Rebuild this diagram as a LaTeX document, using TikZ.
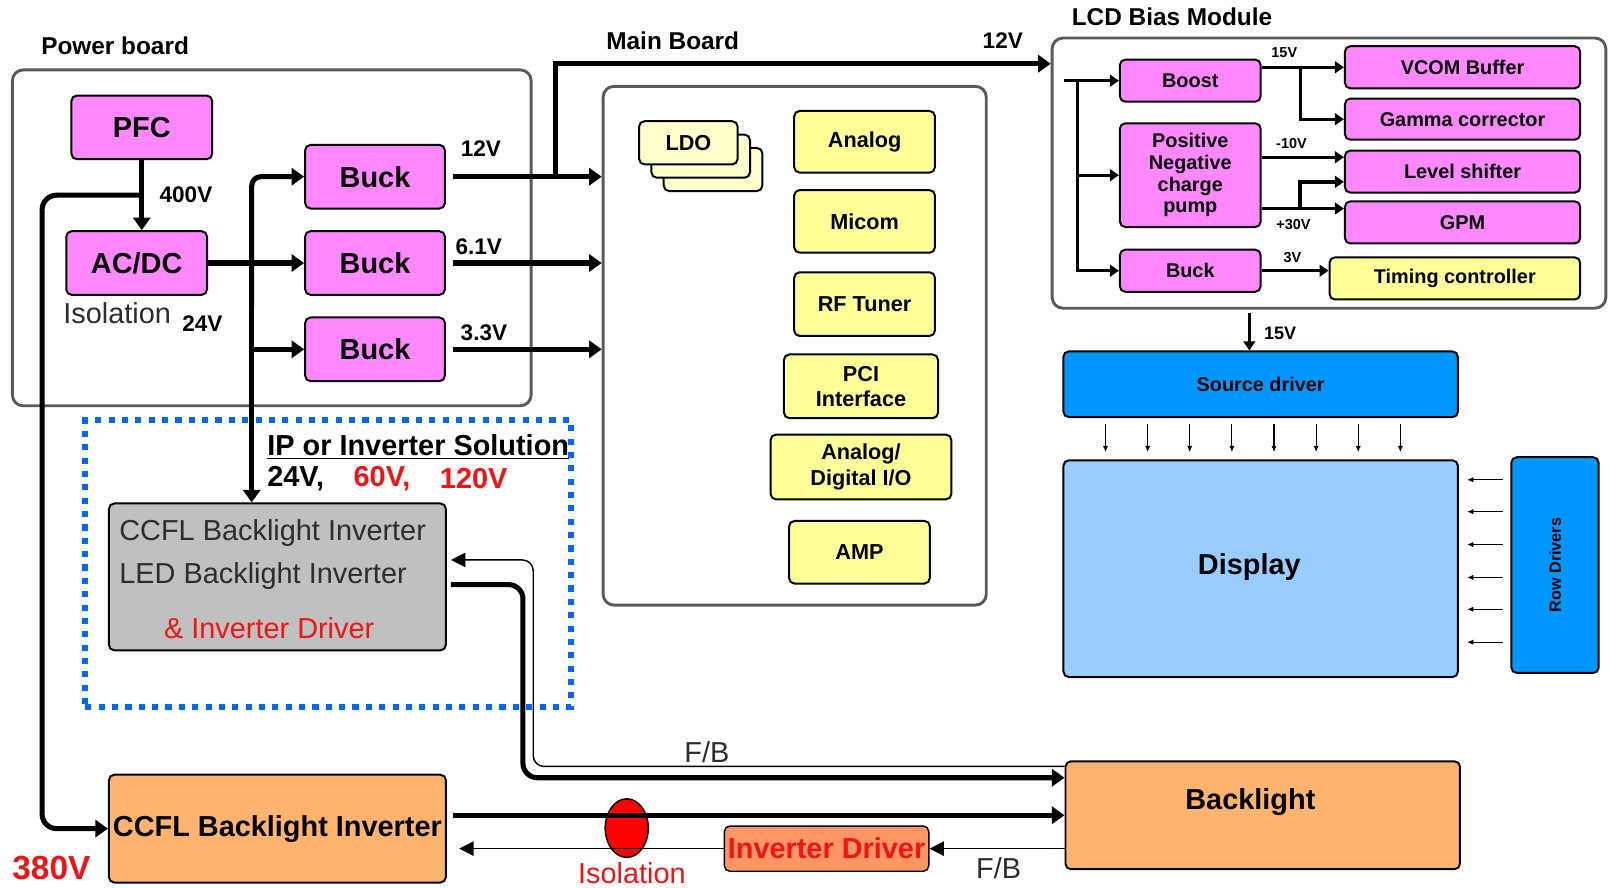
\documentclass[tikz,border=0pt]{standalone}
\usepackage{fontspec}
\setmainfont{Liberation Sans}
\usetikzlibrary{arrows.meta,shapes.geometric}

\definecolor{pinkfill}{RGB}{255,136,255}
\definecolor{ylwfill}{RGB}{255,255,153}
\definecolor{ldofill}{RGB}{255,255,204}
\definecolor{srcblue}{RGB}{0,150,255}
\definecolor{dspblue}{RGB}{153,204,255}
\definecolor{grayfill}{RGB}{192,192,192}
\definecolor{orgfill}{RGB}{252,180,110}
\definecolor{drvfill}{RGB}{255,150,100}
\definecolor{dotblue}{RGB}{0,102,255}
\definecolor{redtxt}{RGB}{240,20,20}
\definecolor{boardgray}{RGB}{90,90,90}
\definecolor{darktxt}{RGB}{45,45,45}

\tikzset{
  pwr/.style={line width=2.8pt,-{Triangle[length=7pt,width=9.5pt]}},
  mid/.style={line width=1.6pt,-{Triangle[length=5pt,width=6.5pt]}},
  sig/.style={line width=0.8pt,-{Triangle[length=8pt,width=8pt]}},
  tick/.style={line width=0.6pt,-{Latex[length=3.5pt,width=3pt]}},
  blk/.style={draw,line width=1.1pt,rounded corners=3pt,inner sep=0pt,align=center},
  board/.style={draw=boardgray,line width=1.6pt,rounded corners=6pt,inner sep=0pt},
  dotbox/.style={draw=dotblue,line width=3.4pt,dash pattern=on 3.4pt off 4pt,inner sep=0pt},
  bigtxt/.style={font=\bfseries\fontsize{16}{19}\selectfont},
  headtxt/.style={font=\bfseries\fontsize{13.5}{16}\selectfont},
  midtxt/.style={font=\bfseries\fontsize{12}{14}\selectfont},
  smltxt/.style={font=\bfseries\fontsize{11}{12}\selectfont},
  vtxt/.style={font=\bfseries\fontsize{12.5}{14}\selectfont},
  tinytxt/.style={font=\bfseries\fontsize{8}{9}\selectfont},
  plaintxt/.style={font=\fontsize{16}{19}\selectfont},
}

\begin{document}
\begin{tikzpicture}[x=0.02cm,y=-0.02cm]
\useasboundingbox (0,0) rectangle (1568,864);

\node[board,minimum width=10.1cm,minimum height=6.54cm] (powerboard) at (264.5,231.5) {};
\node[headtxt,anchor=west] (pbname) at (34,45) {Power board};
\node[blk,fill=pinkfill,bigtxt,minimum width=2.74cm,minimum height=1.24cm] (pfc) at (138,124) {PFC};
\node[blk,fill=pinkfill,bigtxt,minimum width=2.74cm,minimum height=1.24cm] (acdc) at (133,256) {AC/DC};
\node[blk,fill=pinkfill,bigtxt,minimum width=2.72cm,minimum height=1.24cm] (bucka) at (365,172) {Buck};
\node[blk,fill=pinkfill,bigtxt,minimum width=2.72cm,minimum height=1.24cm] (buckb) at (365,256) {Buck};
\node[blk,fill=pinkfill,bigtxt,minimum width=2.72cm,minimum height=1.24cm] (buckc) at (365,340) {Buck};
\node[plaintxt,text=darktxt] (isotxt) at (114,305) {Isolation};
\node[vtxt] (v24) at (197,315) {24V};
\node[vtxt] (v400) at (181,190) {400V};
\node[vtxt] (v12) at (468,145) {12V};
\node[vtxt] (v61) at (466,240) {6.1V};
\node[vtxt] (v33) at (471,324) {3.3V};

\node[board,minimum width=7.46cm,minimum height=10.1cm] (mainboard) at (773.5,336.5) {};
\node[headtxt,anchor=west] (mbname) at (584,40) {Main Board};
\node[vtxt] (v12top) at (976,40) {12V};
\node[blk,fill=ldofill,minimum width=1.92cm,minimum height=0.84cm] (ldoc) at (694,165) {};
\node[blk,fill=ldofill,minimum width=1.92cm,minimum height=0.84cm] (ldob) at (682,152) {};
\node[blk,fill=ldofill,midtxt,minimum width=1.92cm,minimum height=0.84cm] (ldoa) at (670,139) {LDO};
\node[blk,fill=ylwfill,midtxt,minimum width=2.74cm,minimum height=1.2cm] (analog) at (841.5,138) {Analog};
\node[blk,fill=ylwfill,midtxt,minimum width=2.74cm,minimum height=1.22cm] (micom) at (841.5,215.5) {Micom};
\node[blk,fill=ylwfill,midtxt,minimum width=2.74cm,minimum height=1.24cm] (rftuner) at (841.5,296) {RF Tuner};
\node[blk,fill=ylwfill,midtxt,minimum width=3cm,minimum height=1.24cm] (pci) at (838,376) {PCI\\Interface};
\node[blk,fill=ylwfill,midtxt,minimum width=3.52cm,minimum height=1.26cm] (adio) at (838,454.5) {Analog/\\Digital I/O};
\node[blk,fill=ylwfill,midtxt,minimum width=2.74cm,minimum height=1.22cm] (amp) at (836.5,537.5) {AMP};

\node[board,minimum width=10.78cm,minimum height=5.26cm] (biasmod) at (1293.5,168.5) {};
\node[headtxt,anchor=west] (bmname) at (1037,16) {LCD Bias Module};
\node[blk,fill=pinkfill,smltxt,minimum width=2.74cm,minimum height=0.82cm] (boost) at (1158.5,78.5) {Boost};
\node[blk,fill=pinkfill,smltxt,minimum width=2.74cm,minimum height=2.02cm] (cpump) at (1158.5,170.5) {Positive\\Negative\\charge\\pump};
\node[blk,fill=pinkfill,smltxt,minimum width=2.74cm,minimum height=0.82cm] (buckd) at (1158.5,263.5) {Buck};
\node[blk,fill=pinkfill,smltxt,minimum width=4.58cm,minimum height=0.82cm] (vcom) at (1423.5,65.5) {VCOM Buffer};
\node[blk,fill=pinkfill,smltxt,minimum width=4.58cm,minimum height=0.8cm] (gamma) at (1423.5,116) {Gamma corrector};
\node[blk,fill=pinkfill,smltxt,minimum width=4.58cm,minimum height=0.82cm] (level) at (1423.5,167) {Level shifter};
\node[blk,fill=pinkfill,smltxt,minimum width=4.58cm,minimum height=0.82cm] (gpm) at (1423.5,216.5) {GPM};
\node[blk,fill=ylwfill,smltxt,minimum width=4.88cm,minimum height=0.82cm] (timing) at (1416,271) {Timing controller};
\node[tinytxt] (v15a) at (1250,51) {15V};
\node[tinytxt] (vm10) at (1257,140) {-10V};
\node[tinytxt] (vp30) at (1259,219) {+30V};
\node[tinytxt] (v3) at (1258,251) {3V};

\node[blk,fill=srcblue,smltxt,minimum width=7.68cm,minimum height=1.28cm] (src) at (1227,374) {Source driver};
\node[blk,fill=dspblue,minimum width=7.68cm,minimum height=4.22cm] (dsp) at (1227,553.5) {};
\node[bigtxt] (dsptxt) at (1216,552) {Display};
\node[blk,fill=srcblue,minimum width=1.7cm,minimum height=4.2cm] (rowdrv) at (1513.5,550) {};
\node[rotate=90,font=\bfseries\fontsize{9}{10}\selectfont] (rowtxt) at (rowdrv) {Row Drivers};
\node[font=\bfseries\fontsize{10}{12}\selectfont] (v15b) at (1246,324) {15V};

\node[dotbox,minimum width=9.46cm,minimum height=5.58cm] (ipzone) at (319.5,548.5) {};
\node[bigtxt,anchor=west] (iptitle) at (254,435) {\underline{IP or Inverter Solution}};
\node[bigtxt,anchor=west] (ip24) at (254,466) {24V,};
\node[bigtxt,anchor=west,text=redtxt] (ip60) at (338,466) {60V,};
\node[bigtxt,anchor=west,text=redtxt] (ip120) at (422,466) {120V};
\node[blk,fill=grayfill,minimum width=6.56cm,minimum height=2.86cm] (ipinv) at (270,561.5) {};
\node[plaintxt,text=darktxt,anchor=west] (ipl1) at (110,519) {CCFL Backlight Inverter};
\node[plaintxt,text=darktxt,anchor=west] (ipl2) at (110,561) {LED Backlight Inverter};
\node[plaintxt,text=redtxt] (ipl3) at (262,611) {\& Inverter Driver};

\node[blk,fill=orgfill,bigtxt,minimum width=6.56cm,minimum height=2.1cm] (ccflb) at (270,806.5) {CCFL Backlight Inverter};
\node[font=\bfseries\fontsize{18.5}{21}\selectfont,text=redtxt] (v380) at (50,845) {380V};
\node[blk,fill=orgfill,minimum width=7.68cm,minimum height=2.1cm] (backlight) at (1229,793.5) {};
\node[bigtxt] (bltxt) at (1217,781) {Backlight};
\node[draw,ellipse,fill=red,line width=0.8pt,minimum width=0.84cm,minimum height=1.14cm,inner sep=0pt] (iso) at (610,806) {};
\node[plaintxt,text=redtxt] (isolbl) at (615,850) {Isolation};
\node[blk,fill=drvfill,bigtxt,text=redtxt,line width=0.8pt,minimum width=3.98cm,minimum height=0.88cm] (invdrv) at (804.5,826) {Inverter Driver};
\node[plaintxt,text=darktxt] (fba) at (688,732) {F/B};
\node[plaintxt,text=darktxt] (fbb) at (972,845) {F/B};

\coordinate (tap) at (138,190);
\coordinate (lft) at (41,190);
\coordinate (bus) at (245,300);
\coordinate (split) at (541,172);
\coordinate (bias12) at (biasmod.west |- 0,62);
\draw[pwr] (pfc.south) -- (pfc.south |- acdc.north);
\draw[pwr,rounded corners=8pt] (tap) -- (lft) |- (ccflb.west);
\draw[pwr] (acdc.east) -- (buckb.west);
\draw[pwr,rounded corners=5pt] (bus) |- (bucka.west);
\draw[pwr] (bus) -- (bus |- ipinv.north);
\draw[pwr] (bus |- buckc) -- (buckc.west);
\foreach \b in {bucka,buckb,buckc}
  \draw[pwr,shorten <=0.14cm] (\b.east) -- (\b.east -| mainboard.west);
\draw[pwr] (split) |- (bias12);

\coordinate (bin) at (1036,78.5);
\coordinate (bbus) at (1049,78.5);
\coordinate (b15) at (1266,65.5);
\coordinate (b30) at (1265,203);
\draw[mid] (bin) -- (boost.west);
\draw[mid] (bbus) |- (cpump.west);
\draw[mid] (bbus) |- (buckd.west);
\draw[mid] (boost.east |- vcom) -- (vcom.west);
\draw[mid] (b15) |- (gamma.west);
\draw[mid] (cpump.east |- 0,153) -- (level.west |- 0,153);
\draw[mid] (cpump.east |- 0,203) -- (gpm.west |- 0,203);
\draw[mid,line width=2.4pt] (b30) |- (level.west |- 0,177);
\draw[mid] (buckd.east) -- (buckd.east -| timing.west);
\draw[mid,shorten <=0.06cm] (biasmod.south -| 1216,0) -- (src.north -| 1216,0);

\foreach \x in {1076,1117,1158,1199,1240,1281,1322,1363}
  \draw[tick,shorten <=0.12cm,shorten >=0.14cm] (src.south -| \x,0) -- (dsp.north -| \x,0);
\foreach \y in {467,498,530,562,593,625}
  \draw[tick,shorten <=0.14cm,shorten >=0.16cm] (rowdrv.west |- 0,\y) -- (dsp.east |- 0,\y);

\coordinate (fbup) at (519,746);
\coordinate (blup) at (509,757);
\draw[sig,rounded corners=6pt,shorten >=0.08cm] (backlight.west |- fbup) -| (fbup |- 0,545) -- (ipinv.east |- 0,545);
\draw[pwr,rounded corners=8pt,shorten <=0.08cm] (ipinv.east |- 0,569) -| (blup) -- (backlight.west |- blup);
\draw[pwr,shorten <=0.12cm] (ccflb.east |- backlight) -- (backlight.west);
\draw[sig] (backlight.west |- invdrv) -- (invdrv.east);
\draw[sig,shorten >=0.24cm] (invdrv.west) -- (invdrv.west -| ccflb.east);
\end{tikzpicture}
\end{document}
